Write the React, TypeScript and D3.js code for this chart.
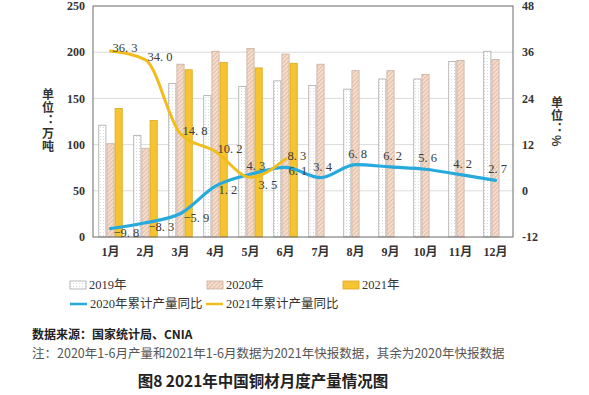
import { useEffect, useRef } from "react";
import * as d3 from "d3";

const months = ["1月", "2月", "3月", "4月", "5月", "6月", "7月", "8月", "9月", "10月", "11月", "12月"];
const prod2019 = [121, 110, 166, 153, 163, 169, 164, 160, 171, 171, 190, 201];
const prod2020 = [101, 96, 187, 201, 204, 198, 187, 180, 180, 176, 191, 192];
const prod2021 = [139, 126, 181, 189, 183, 188];
const yoy2020 = [-9.8, -8.3, -5.9, 1.2, 4.3, 6.1, 3.4, 6.8, 6.2, 5.6, 4.2, 2.7];
const yoy2021 = [36.3, 34.0, 14.8, 10.2, 3.5, 8.3];
const leftTicks = [0, 50, 100, 150, 200, 250];
const rightTicks = [-12, 0, 12, 24, 36, 48];

const SERIF = "'Liberation Serif', 'DejaVu Serif', 'Noto Sans CJK SC', serif";
const SANS = "'Noto Sans CJK SC', 'Noto Sans', sans-serif";

export default function App() {
  const ref = useRef<SVGSVGElement | null>(null);

  useEffect(() => {
    const width = 589;
    const height = 395;
    const margin = { top: 6, left: 93, right: 76, bottom: 158 };
    const plotW = width - margin.left - margin.right;
    const plotH = height - margin.top - margin.bottom;

    const svg = d3.select(ref.current);
    svg.selectAll("*").remove();

    // patterns for bar fills
    const defs = svg.append("defs");
    const dots = defs
      .append("pattern")
      .attr("id", "dots")
      .attr("width", 3)
      .attr("height", 3)
      .attr("patternUnits", "userSpaceOnUse");
    dots.append("rect").attr("width", 3).attr("height", 3).attr("fill", "#fff");
    dots.append("circle").attr("cx", 1.5).attr("cy", 1.5).attr("r", 0.5).attr("fill", "#cfcfcf");

    const hatch = defs
      .append("pattern")
      .attr("id", "hatch")
      .attr("width", 3)
      .attr("height", 3)
      .attr("patternUnits", "userSpaceOnUse")
      .attr("patternTransform", "rotate(45)");
    hatch.append("rect").attr("width", 3).attr("height", 3).attr("fill", "#f4dece");
    hatch.append("line").attr("x1", 0).attr("y1", 0).attr("x2", 0).attr("y2", 3)
      .attr("stroke", "#d9a78a").attr("stroke-width", 1.2);

    const g = svg.append("g").attr("transform", `translate(${margin.left},${margin.top})`);

    // scales
    const x = d3.scaleBand().domain(months).range([0, plotW]).paddingInner(0.3).paddingOuter(0.15);
    const xSub = d3.scaleBand().domain(["2019", "2020", "2021"]).range([0, x.bandwidth()]);
    const yL = d3.scaleLinear().domain([0, 250]).range([plotH, 0]);
    const yR = d3.scaleLinear().domain([-12, 48]).range([plotH, 0]);

    // gridlines
    g.selectAll("line.grid")
      .data(leftTicks.slice(1, -1))
      .enter()
      .append("line")
      .attr("x1", 0)
      .attr("x2", plotW)
      .attr("y1", (d) => yL(d))
      .attr("y2", (d) => yL(d))
      .attr("stroke", "#dcdcdc")
      .attr("stroke-width", 1);

    // bars
    const series = [
      { key: "2019", values: prod2019, fill: "url(#dots)", stroke: "#a8a8a8" },
      { key: "2020", values: prod2020, fill: "url(#hatch)", stroke: "#c9b0a0" },
      { key: "2021", values: prod2021, fill: "#f6c430", stroke: "#d9a820" },
    ];
    series.forEach((s) => {
      g.selectAll(`rect.b${s.key}`)
        .data(s.values)
        .enter()
        .append("rect")
        .attr("x", (_, i) => (x(months[i]) ?? 0) + (xSub(s.key) ?? 0) + 0.5)
        .attr("y", (d) => yL(d))
        .attr("width", xSub.bandwidth() - 1)
        .attr("height", (d) => plotH - yL(d))
        .attr("fill", s.fill)
        .attr("stroke", s.stroke)
        .attr("stroke-width", 0.8);
    });

    // frame
    g.append("rect")
      .attr("width", plotW)
      .attr("height", plotH)
      .attr("fill", "none")
      .attr("stroke", "#6a6a6a")
      .attr("stroke-width", 1);

    // lines
    const cx = (i: number) => (x(months[i]) ?? 0) + x.bandwidth() / 2;
    const line = d3
      .line<number>()
      .x((_, i) => cx(i))
      .y((d) => yR(d))
      .curve(d3.curveMonotoneX);

    g.append("path")
      .datum(yoy2020)
      .attr("fill", "none")
      .attr("stroke", "#27a9dc")
      .attr("stroke-width", 3.2)
      .attr("stroke-linecap", "round")
      .attr("d", line);

    g.append("path")
      .datum(yoy2021)
      .attr("fill", "none")
      .attr("stroke", "#f0bd1c")
      .attr("stroke-width", 3)
      .attr("stroke-linecap", "round")
      .attr("d", line);

    const fmt = (v: number) => d3.format(".1f")(v).replace(".", ". ");
    const n21 = yoy2021.length;

    // 2020 labels: where both lines exist, the lower line's label goes below it
    g.selectAll("text.l2020")
      .data(yoy2020)
      .enter()
      .append("text")
      .attr("x", (d, i) => (i >= n21 ? cx(i) + 2 : d >= yoy2021[i] ? cx(i) - 4 : cx(i) + 3))
      .attr("y", (d, i) => (i >= n21 ? yR(d) - 7 : d >= yoy2021[i] ? yR(d) - 4 : yR(d) + 8))
      .attr("text-anchor", (_, i) => (i < n21 ? "start" : "middle"))
      .attr("font-family", SERIF)
      .attr("font-size", 12.5)
      .attr("fill", "#3a3a3a")
      .text((d) => fmt(d));

    g.selectAll("text.l2021")
      .data(yoy2021)
      .enter()
      .append("text")
      .attr("x", (d, i) => (d >= yoy2020[i] ? cx(i) + 2 : cx(i) + 8))
      .attr("y", (d, i) => (d >= yoy2020[i] ? yR(d) + 1 : yR(d) + 12))
      .attr("text-anchor", "start")
      .attr("font-family", SERIF)
      .attr("font-size", 12.5)
      .attr("fill", "#3a3a3a")
      .text((d) => fmt(d));

    // axes labels
    g.selectAll("text.yl")
      .data(leftTicks)
      .enter()
      .append("text")
      .attr("x", -8)
      .attr("y", (d) => yL(d))
      .attr("dy", "0.35em")
      .attr("text-anchor", "end")
      .attr("font-family", SERIF)
      .attr("font-weight", "bold")
      .attr("font-size", 12)
      .attr("fill", "#333")
      .text((d) => d);

    g.selectAll("text.yr")
      .data(rightTicks)
      .enter()
      .append("text")
      .attr("x", plotW + 9)
      .attr("y", (d) => yR(d))
      .attr("dy", "0.35em")
      .attr("text-anchor", "start")
      .attr("font-family", SERIF)
      .attr("font-weight", "bold")
      .attr("font-size", 12)
      .attr("fill", "#333")
      .text((d) => d);

    g.selectAll("text.xl")
      .data(months)
      .enter()
      .append("text")
      .attr("x", (d) => (x(d) ?? 0) + x.bandwidth() / 2)
      .attr("y", plotH + 19)
      .attr("text-anchor", "middle")
      .attr("font-family", SERIF)
      .attr("font-weight", "bold")
      .attr("font-size", 12)
      .attr("fill", "#333")
      .text((d) => d);

    // unit titles, written vertically
    const unitTitle = (ux: number, uy: number, t: string) =>
      svg.append("text")
        .attr("x", ux)
        .attr("y", uy)
        .style("writing-mode", "vertical-rl")
        .attr("font-family", SANS)
        .attr("font-weight", "bold")
        .attr("font-size", 12)
        .attr("letter-spacing", 1)
        .attr("fill", "#333")
        .text(t);

    unitTitle(48, 88, "单位：万吨");
    unitTitle(557, 96, "单位：%");

    // legend
    const legendText = (lx: number, ly: number, t: string) =>
      svg.append("text")
        .attr("x", lx)
        .attr("y", ly)
        .attr("dy", "0.35em")
        .attr("font-family", SERIF)
        .attr("font-size", 12.5)
        .attr("fill", "#333")
        .text(t);

    const boxes = [
      { lx: 70, fill: "url(#dots)", stroke: "#a8a8a8", t: "2019年" },
      { lx: 207, fill: "url(#hatch)", stroke: "#c9b0a0", t: "2020年" },
      { lx: 343, fill: "#f6c430", stroke: "#d9a820", t: "2021年" },
    ];
    boxes.forEach((b) => {
      svg.append("rect")
        .attr("x", b.lx)
        .attr("y", 281)
        .attr("width", 16)
        .attr("height", 8)
        .attr("fill", b.fill)
        .attr("stroke", b.stroke)
        .attr("stroke-width", 0.8);
      legendText(b.lx + 19, 285, b.t);
    });
    const lines = [
      { lx: 70, color: "#27a9dc", t: "2020年累计产量同比" },
      { lx: 206, color: "#f0bd1c", t: "2021年累计产量同比" },
    ];
    lines.forEach((l) => {
      svg.append("line")
        .attr("x1", l.lx)
        .attr("x2", l.lx + 17)
        .attr("y1", 304)
        .attr("y2", 304)
        .attr("stroke", l.color)
        .attr("stroke-width", 2.5);
      legendText(l.lx + 20, 304, l.t);
    });

    // source & notes
    svg.append("text")
      .attr("x", 32)
      .attr("y", 339)
      .attr("font-family", SANS)
      .attr("font-weight", "bold")
      .attr("font-size", 12)
      .attr("fill", "#222")
      .text("数据来源：国家统计局、CNIA");

    svg.append("text")
      .attr("x", 32)
      .attr("y", 358)
      .attr("font-family", SANS)
      .attr("font-size", 12.5)
      .attr("fill", "#555")
      .text("注：2020年1-6月产量和2021年1-6月数据为2021年快报数据，其余为2020年快报数据");

    svg.append("text")
      .attr("x", 263)
      .attr("y", 387)
      .attr("text-anchor", "middle")
      .attr("font-family", SANS)
      .attr("font-weight", "bold")
      .attr("font-size", 15.5)
      .attr("fill", "#222")
      .text("图8 2021年中国铜材月度产量情况图");
  }, []);

  return (
    <div style={{ position: "fixed", left: 0, top: 0 }}>
      <svg ref={ref} width={589} height={395} style={{ display: "block", background: "#fff" }} />
    </div>
  );
}
